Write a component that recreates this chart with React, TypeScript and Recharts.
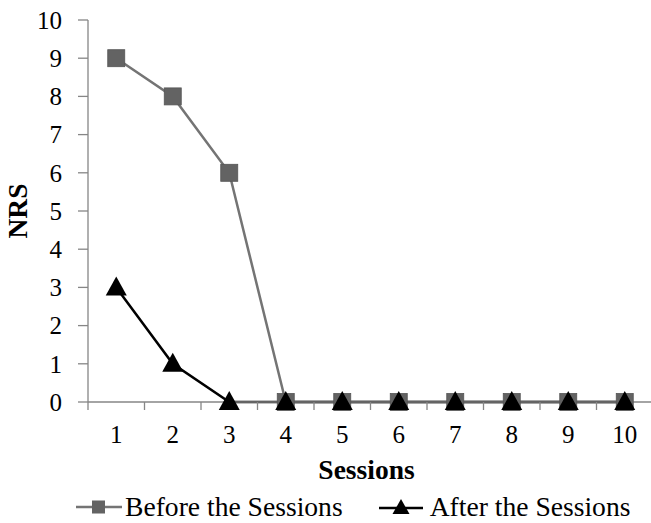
import React from "react";
import { Legend, Line, LineChart, XAxis, YAxis } from "recharts";

const sessions = [1, 2, 3, 4, 5, 6, 7, 8, 9, 10];
const beforeSessions = [9, 8, 6, 0, 0, 0, 0, 0, 0, 0];
const afterSessions = [3, 1, 0, 0, 0, 0, 0, 0, 0, 0];
const nrsTicks = [0, 1, 2, 3, 4, 5, 6, 7, 8, 9, 10];

const seriesNames = ["Before the Sessions", "After the Sessions"];

const data = sessions.map((s, i) => ({
  session: s,
  before: beforeSessions[i],
  after: afterSessions[i],
}));

// Excel puts the x tick marks between categories
const boundaryTicks = [...sessions.map((s) => s - 0.5), sessions[sessions.length - 1] + 0.5];

const FONT = "Liberation Serif";
const AXIS = "#868686";
const GREY_LINE = "#747474";
const GREY_FILL = "#636363";

function SquareDot(props: any) {
  const { cx, cy } = props;
  if (cx == null || cy == null) return null;
  return <rect x={cx - 8.5} y={cy - 8.5} width={17} height={17} fill={GREY_FILL} stroke="#555" strokeWidth={0.8} />;
}

function TriangleDot(props: any) {
  const { cx, cy } = props;
  if (cx == null || cy == null) return null;
  return <polygon points={`${cx},${cy - 11} ${cx + 10.5},${cy + 8} ${cx - 10.5},${cy + 8}`} fill="#000" />;
}

function LegendContent() {
  return (
    <div
      style={{
        display: "flex",
        paddingLeft: 76,
        fontFamily: FONT,
        fontSize: 27.6,
        lineHeight: "33px",
        color: "#000",
        whiteSpace: "nowrap",
      }}
    >
      <span style={{ display: "flex", alignItems: "center", marginRight: 36 }}>
        <svg width={46} height={20} style={{ marginRight: 3 }}>
          <line x1={0} y1={10} x2={46} y2={10} stroke={GREY_LINE} strokeWidth={2.5} />
          <rect x={16} y={3.5} width={13} height={13} fill={GREY_FILL} />
        </svg>
        {seriesNames[0]}
      </span>
      <span style={{ display: "flex", alignItems: "center" }}>
        <svg width={44} height={20} style={{ marginRight: 7 }}>
          <line x1={0} y1={11} x2={44} y2={11} stroke="#000" strokeWidth={2.5} />
          <polygon points="22,2 30.5,17 13.5,17" fill="#000" />
        </svg>
        {seriesNames[1]}
      </span>
    </div>
  );
}

const tickStyle = { fontFamily: FONT, fontSize: 25, fill: "#000" };

export default function App() {
  return (
    <div
      style={{
        position: "absolute",
        left: 0,
        top: 0,
        width: 651,
        height: 523,
        overflow: "hidden",
        background: "#fff",
        fontFamily: FONT,
      }}
    >
      <LineChart
        width={660}
        height={523}
        data={data}
        margin={{ top: 20, right: 7, left: 0, bottom: 0 }}
        style={{ fontFamily: FONT }}
      >
        <XAxis
          xAxisId="marks"
          dataKey="session"
          type="number"
          domain={[0.5, 10.5]}
          ticks={boundaryTicks}
          tickFormatter={() => ""}
          tickSize={8}
          height={8}
          stroke={AXIS}
          strokeWidth={1.3}
          allowDataOverflow
        />
        <XAxis
          xAxisId="sessions"
          dataKey="session"
          type="number"
          domain={[0.5, 10.5]}
          ticks={sessions}
          axisLine={false}
          tickLine={false}
          tickSize={0}
          tickMargin={15}
          height={80}
          tick={tickStyle}
          label={({ viewBox }: any) => (
            <text
              x={viewBox.x + viewBox.width / 2 - 4}
              y={viewBox.y + 69}
              textAnchor="middle"
              style={{ fontFamily: FONT, fontSize: 27.5, fontWeight: "bold" }}
              fill="#000"
            >
              Sessions
            </text>
          )}
        />
        <YAxis
          domain={[0, 10]}
          ticks={nrsTicks}
          width={88}
          tickSize={10}
          tickMargin={16}
          stroke={AXIS}
          strokeWidth={1.3}
          tick={tickStyle}
          label={({ viewBox }: any) => (
            <text
              x={viewBox.x + 27}
              y={viewBox.y + viewBox.height / 2}
              transform={`rotate(-90, ${viewBox.x + 27}, ${viewBox.y + viewBox.height / 2})`}
              textAnchor="middle"
              style={{ fontFamily: FONT, fontSize: 27.5, fontWeight: "bold" }}
              fill="#000"
            >
              NRS
            </text>
          )}
        />
        <Legend verticalAlign="bottom" height={33} content={<LegendContent />} />
        <Line
          xAxisId="sessions"
          dataKey="before"
          name={seriesNames[0]}
          stroke={GREY_LINE}
          strokeWidth={2.5}
          dot={<SquareDot />}
          isAnimationActive={false}
        />
        <Line
          xAxisId="sessions"
          dataKey="after"
          name={seriesNames[1]}
          stroke="#000"
          strokeWidth={2.5}
          dot={<TriangleDot />}
          isAnimationActive={false}
        />
      </LineChart>
    </div>
  );
}
